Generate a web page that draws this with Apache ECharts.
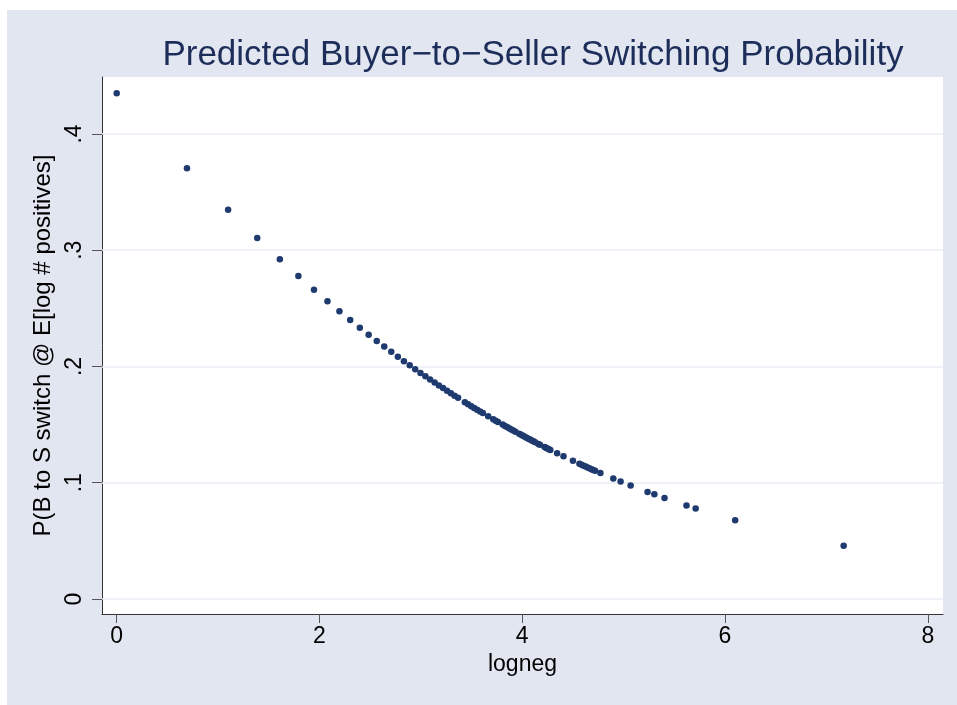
<!DOCTYPE html>
<html>
<head>
<meta charset="utf-8">
<script src="https://cdn.jsdelivr.net/npm/echarts@6/dist/echarts.min.js"></script>
<style>
  html, body { margin: 0; padding: 0; background: #ffffff; width: 957px; height: 705px; overflow: hidden; }
  #chart { position: absolute; left: 7px; top: 10px; width: 950px; height: 695px; }
</style>
</head>
<body>
<div id="chart"></div>
<script>
// logneg values (x)
const logneg = [
  0.000, 0.693, 1.099, 1.386, 1.609, 1.792, 1.946, 2.079, 2.197, 2.303,
  2.398, 2.485, 2.565, 2.639, 2.708, 2.773, 2.833, 2.890, 2.944, 2.996,
  3.045, 3.091, 3.136, 3.178, 3.219, 3.258, 3.296, 3.332, 3.367,
  3.434, 3.466, 3.497, 3.526, 3.555, 3.584, 3.611,
  3.664, 3.714, 3.738, 3.761,
  3.807, 3.829, 3.850, 3.871, 3.892, 3.912, 3.932,
  3.970, 3.989, 4.007, 4.025, 4.043, 4.060, 4.078, 4.094, 4.111, 4.127,
  4.159, 4.174, 4.220, 4.234, 4.248, 4.263, 4.277,
  4.344, 4.407, 4.500,
  4.564, 4.585, 4.605, 4.625, 4.644, 4.663, 4.682, 4.700, 4.719,
  4.771, 4.898, 4.970, 5.069, 5.236, 5.303, 5.403, 5.620, 5.710, 6.100, 7.170
];
// predicted probability (y)
const prob = [
  0.4350, 0.3706, 0.3348, 0.3105, 0.2923, 0.2779, 0.2661, 0.2561, 0.2475, 0.2400,
  0.2333, 0.2274, 0.2220, 0.2171, 0.2126, 0.2084, 0.2046, 0.2010, 0.1977, 0.1945,
  0.1916, 0.1888, 0.1862, 0.1837, 0.1814, 0.1791, 0.1770, 0.1749, 0.1730,
  0.1693, 0.1676, 0.1659, 0.1643, 0.1628, 0.1613, 0.1599,
  0.1572, 0.1546, 0.1534, 0.1522,
  0.1500, 0.1489, 0.1479, 0.1468, 0.1458, 0.1449, 0.1439,
  0.1421, 0.1412, 0.1404, 0.1395, 0.1387, 0.1379, 0.1371, 0.1363, 0.1356, 0.1349,
  0.1334, 0.1327, 0.1307, 0.1301, 0.1295, 0.1288, 0.1282,
  0.1254, 0.1227, 0.1189,
  0.1163, 0.1155, 0.1147, 0.1139, 0.1132, 0.1124, 0.1117, 0.1110, 0.1103,
  0.1083, 0.1037, 0.1011, 0.0977, 0.0921, 0.0900, 0.0869, 0.0804, 0.0779, 0.0677, 0.0458
];
const xTickValues = [0, 2, 4, 6, 8];
const xTickLabels = ['0', '2', '4', '6', '8'];
const yTickValues = [0, 0.1, 0.2, 0.3, 0.4];
const yTickLabels = ['0', '.1', '.2', '.3', '.4'];

const titleText = 'Predicted Buyer\u2212to\u2212Seller Switching Probability';
const xName = 'logneg';
const yName = 'P(B to S switch @ E[log # positives]';

const points = logneg.map((x, i) => [x, prob[i]]);
const FONT = '"Liberation Sans", Arial, sans-serif';

const chart = echarts.init(document.getElementById('chart'), null, { renderer: 'canvas' });
chart.setOption({
  backgroundColor: '#e2e6f0',
  animation: false,
  title: {
    text: titleText,
    left: 521,
    top: 23,
    textAlign: 'center',
    textStyle: { fontFamily: FONT, fontSize: 35, fontWeight: 'normal', color: '#1c2d5a' }
  },
  grid: { left: 95, top: 67, right: 14, bottom: 91, show: true, backgroundColor: '#ffffff', borderWidth: 0 },
  xAxis: {
    type: 'value',
    min: -0.145, max: 8.15,
    name: xName, nameLocation: 'middle', nameGap: 36,
    nameTextStyle: { fontFamily: FONT, fontSize: 23, color: '#000' },
    axisLine: { show: true, onZero: false, lineStyle: { color: '#333', width: 1 } },
    axisTick: { show: true, length: 9, customValues: xTickValues, lineStyle: { color: '#555', width: 1 } },
    axisLabel: {
      customValues: xTickValues, margin: 11,
      formatter: v => xTickLabels[xTickValues.indexOf(v)] ?? '',
      fontFamily: FONT, fontSize: 23, color: '#000'
    },
    splitLine: { show: false }
  },
  yAxis: {
    type: 'value',
    min: -0.0129, max: 0.449,
    name: yName, nameLocation: 'middle', nameGap: 45, nameRotate: 90,
    nameTextStyle: { fontFamily: FONT, fontSize: 24, color: '#000' },
    axisLine: { show: true, onZero: false, lineStyle: { color: '#333', width: 1 } },
    axisTick: { show: true, length: 10, customValues: yTickValues, lineStyle: { color: '#555', width: 1 } },
    axisLabel: {
      customValues: yTickValues, margin: 16, rotate: 90,
      formatter: v => { const i = yTickValues.findIndex(t => Math.abs(t - v) < 1e-9); return i >= 0 ? yTickLabels[i] : ''; },
      fontFamily: FONT, fontSize: 23, color: '#000'
    },
    splitLine: { show: false }
  },
  series: [
    {
      type: 'line',
      data: [],
      z: 1,
      silent: true,
      markLine: {
        silent: true,
        z: 1,
        symbol: ['none', 'none'],
        label: { show: false },
        lineStyle: { color: '#e9ecf3', width: 1.5, type: 'solid' },
        data: yTickValues.map(v => ({ yAxis: v }))
      }
    },
    {
      type: 'scatter',
      z: 10,
      data: points,
      symbol: 'circle',
      symbolSize: 6.5,
      itemStyle: { color: '#1e3a6e', opacity: 1 }
    }
  ]
});
</script>
</body>
</html>
